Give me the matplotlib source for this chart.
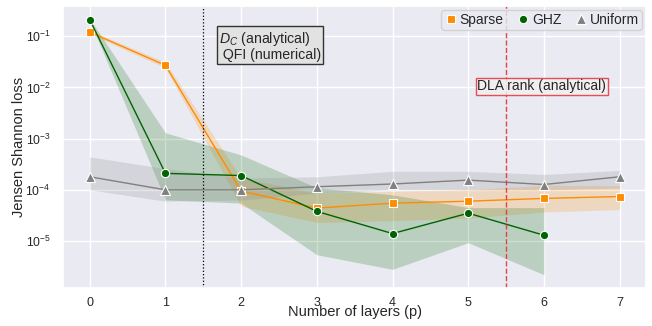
import numpy as np
import matplotlib.pyplot as plt
import seaborn as sns

sns.set_theme(style="darkgrid")
plt.rcParams['font.family'] = ['Liberation Sans', 'DejaVu Sans']
plt.rcParams['mathtext.fontset'] = 'custom'
plt.rcParams['mathtext.rm'] = 'Liberation Sans'
plt.rcParams['mathtext.it'] = 'Liberation Sans:italic'

layers = [0, 1, 2, 3, 4, 5, 6, 7]
layers_ghz = [0, 1, 2, 3, 4, 5, 6]

sparse_mean = [0.12, 0.027, 9.5e-5, 4.4e-5, 5.5e-5, 6.0e-5, 6.8e-5, 7.4e-5]
sparse_lo = [0.11, 0.024, 4.8e-5, 2.3e-5, 2.5e-5, 2.8e-5, 3.7e-5, 4.1e-5]
sparse_hi = [0.13, 0.031, 1.7e-4, 8.6e-5, 9.4e-5, 1.0e-4, 1.23e-4, 1.2e-4]

ghz_mean = [0.21, 2.1e-4, 1.9e-4, 3.8e-5, 1.4e-5, 3.5e-5, 1.3e-5]
ghz_lo = [0.2, 6.4e-5, 5.5e-5, 5.4e-6, 2.8e-6, 9.3e-6, 2.2e-6]
ghz_hi = [0.22, 1.3e-3, 4.8e-4, 1.1e-4, 8e-5, 4.5e-5, 4.5e-5]

uniform_mean = [1.8e-4, 1.0e-4, 1.0e-4, 1.15e-4, 1.3e-4, 1.55e-4, 1.27e-4, 1.8e-4]
uniform_lo = [1.0e-4, 6.0e-5, 6.3e-5, 8.6e-5, 1.0e-4, 1.0e-4, 1.0e-4, 1.08e-4]
uniform_hi = [4.4e-4, 2.6e-4, 1.7e-4, 1.8e-4, 2.3e-4, 2.3e-4, 2.0e-4, 2.4e-4]

fig, ax = plt.subplots(figsize=(6.52, 3.26), dpi=100)
fig.subplots_adjust(left=0.097, right=0.991, top=0.982, bottom=0.118)

series = [
    ("Sparse", layers, sparse_mean, sparse_lo, sparse_hi, "darkorange", "s"),
    ("GHZ", layers_ghz, ghz_mean, ghz_lo, ghz_hi, "darkgreen", "o"),
    ("Uniform", layers, uniform_mean, uniform_lo, uniform_hi, "gray", "^"),
]
for name, xs, mean, lo, hi, color, marker in series:
    ax.fill_between(xs, lo, hi, color=color, alpha=0.2, linewidth=0)
    ax.plot(xs, mean, color=color, lw=1.0)
    ax.plot(xs, mean, color=color, marker=marker, ls="none", ms=7.5 if marker == "^" else 6,
            markeredgecolor="white", markeredgewidth=0.8, label=name)

ax.set_yscale("log")
ax.set_xticks(layers)
ax.tick_params(axis="x", labelsize=9, pad=1)
ax.tick_params(axis="y", labelsize=8.8, pad=3)
ax.set_xlabel("Number of layers (p)", fontsize=10.5)
ax.set_ylabel("Jensen Shannon loss", fontsize=10.5)
ax.xaxis.set_label_coords(0.5, -0.062)
ax.yaxis.set_label_coords(-0.064, 0.5)

ax.axvline(1.5, color="black", ls=":", lw=0.9)
ax.axvline(5.5, color="#e8303a", ls="--", lw=1.0, alpha=0.9)

ax.text(1.71, 0.135, "$D_C$ (analytical)\n QFI (numerical)", fontsize=10.2,
        va="top", ha="left", linespacing=1.05,
        bbox=dict(boxstyle="square,pad=0.12", facecolor="#e2e2e2", edgecolor="#333333"))
ax.text(5.12, 0.0105, "DLA rank (analytical)", fontsize=10, va="center", ha="left",
        bbox=dict(boxstyle="square,pad=0.12", facecolor="#f0f0f0", edgecolor="#e8303a", alpha=0.85))

ax.legend(loc="upper right", ncol=3, fontsize=10, handletextpad=0.15, columnspacing=0.9,
          borderpad=0.2, handlelength=1.0, borderaxespad=0.3)

fig.savefig("out.png")
